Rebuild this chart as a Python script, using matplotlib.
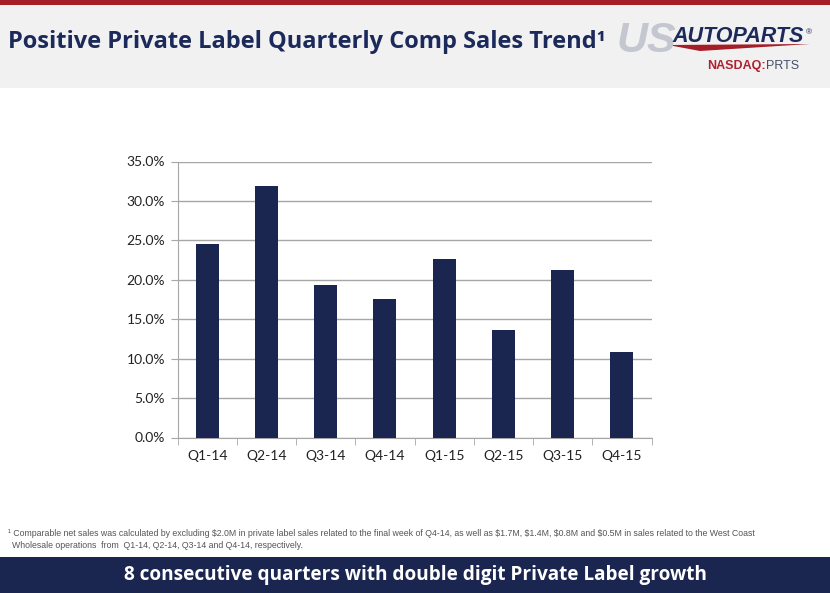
import matplotlib.pyplot as plt
from matplotlib.patches import Rectangle, Polygon

quarters = ["Q1-14", "Q2-14", "Q3-14", "Q4-14", "Q1-15", "Q2-15", "Q3-15", "Q4-15"]
growth = [24.6, 31.9, 19.3, 17.6, 22.6, 13.6, 21.2, 10.8]
yticks = [0, 5, 10, 15, 20, 25, 30, 35]

navy = "#1a2550"
red = "#a51d26"

fig = plt.figure(figsize=(8.3, 5.93), dpi=100)
fig.patch.set_facecolor("white")

# header / footer bands
fig.patches.append(Rectangle((0, 1 - 88 / 593), 1, 88 / 593, transform=fig.transFigure,
                             facecolor="#f1f1f1", edgecolor="none", zorder=0))
fig.patches.append(Rectangle((0, 1 - 5 / 593), 1, 5 / 593, transform=fig.transFigure,
                             facecolor=red, edgecolor="none", zorder=1))
fig.patches.append(Rectangle((0, 0), 1, 36 / 593, transform=fig.transFigure,
                             facecolor=navy, edgecolor="none", zorder=0))

fig.text(8 / 830, 1 - 42 / 593, "Positive Private Label Quarterly Comp Sales Trend\u00b9",
         fontsize=17, fontweight="bold", family="Open Sans", color="#1b2a5a", va="center")

# logo
fig.text(616 / 830, 1 - 41 / 593, "US", fontsize=31, fontstyle="italic", fontweight="bold",
         family="Liberation Sans", color="#c4c6d0", va="center")
fig.text(672 / 830, 1 - 36 / 593, "AUTOPARTS", fontsize=15.5, fontstyle="italic", fontweight="bold",
         family="Liberation Sans", color="#1b2a5a", va="center")
fig.text(806 / 830, 1 - 33 / 593, "\u00ae", fontsize=6, family="Liberation Sans",
         color="#1b2a5a", va="center")
fig.patches.append(Polygon([(668 / 830, 1 - 45 / 593), (810 / 830, 1 - 44 / 593),
                            (700 / 830, 1 - 51 / 593)], closed=True, transform=fig.transFigure,
                           facecolor=red, edgecolor="none"))
fig.text(766 / 830, 1 - 66 / 593, "NASDAQ:", fontsize=9, fontweight="bold",
         family="Liberation Sans", color="#b02030", va="center", ha="right")
fig.text(766 / 830, 1 - 66 / 593, "PRTS", fontsize=9, family="Liberation Sans",
         color="#44506a", va="center")

ax = fig.add_axes([177.5 / 830, 155.5 / 593, 474 / 830, 276 / 593])
x = range(len(quarters))
ax.bar(x, growth, width=0.39, color=navy, zorder=3)
ax.set_xlim(-0.5, len(quarters) - 0.5)
ax.set_ylim(0, 35)
ax.set_yticks(yticks)
ax.set_yticklabels([f"{v:.1f}%" for v in yticks])
ax.set_xticks(x)
ax.set_xticklabels(quarters)
ax.set_xticks([i - 0.5 for i in range(len(quarters) + 1)], minor=True)
ax.grid(axis="y", color="#a6a6a6", linewidth=1, zorder=0)
for s in ["top", "right"]:
    ax.spines[s].set_visible(False)
ax.spines["left"].set_color("#a6a6a6")
ax.spines["bottom"].set_color("#a6a6a6")
ax.tick_params(axis="x", which="major", length=0, pad=9)
ax.tick_params(axis="x", which="minor", length=5, color="#a6a6a6")
ax.tick_params(axis="y", length=5, color="#a6a6a6", pad=4)
for lbl in ax.get_xticklabels() + ax.get_yticklabels():
    lbl.set_fontsize(10)
    lbl.set_family("Lato")
    lbl.set_color("#222222")

fig.text(8 / 830, 1 - 534 / 593, "\u00b9 Comparable net sales was calculated by excluding $2.0M in private label sales "
         "related to the final week of Q4-14, as well as $1.7M, $1.4M, $0.8M and $0.5M in sales related to the West Coast",
         fontsize=6.3, family="Liberation Sans", color="#555555", va="center", parse_math=False)
fig.text(12 / 830, 1 - 546 / 593, "Wholesale operations  from  Q1-14, Q2-14, Q3-14 and Q4-14, respectively.",
         fontsize=6.3, family="Liberation Sans", color="#555555", va="center", parse_math=False)

fig.text(0.5, 18 / 593, "8 consecutive quarters with double digit Private Label growth",
         fontsize=13.7, fontweight="bold", family="Open Sans", color="white", ha="center", va="center")

fig.savefig("out.png", dpi=100, facecolor=fig.get_facecolor())
